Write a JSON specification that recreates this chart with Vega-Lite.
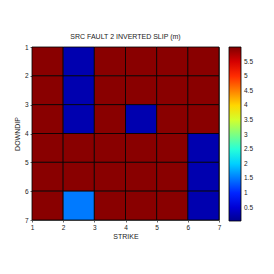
{
  "$schema": "https://vega.github.io/schema/vega-lite/v6.json",
  "width": 187,
  "height": 173,
  "autosize": {"type": "none"},
  "padding": {"left": 32, "top": 47, "right": 55, "bottom": 54},
  "background": "white",
  "title": {"text": "SRC FAULT 2 INVERTED SLIP (m)", "fontSize": 7, "font": "Liberation Sans", "fontWeight": "normal", "color": "#222", "offset": 4, "anchor": "middle"},
  "data": {"values": [
    {"s":1,"s2":2,"d":1,"d2":2,"v":5.95},{"s":2,"s2":3,"d":1,"d2":2,"v":0.25},{"s":3,"s2":4,"d":1,"d2":2,"v":5.95},{"s":4,"s2":5,"d":1,"d2":2,"v":5.95},{"s":5,"s2":6,"d":1,"d2":2,"v":5.95},{"s":6,"s2":7,"d":1,"d2":2,"v":5.95},
    {"s":1,"s2":2,"d":2,"d2":3,"v":5.95},{"s":2,"s2":3,"d":2,"d2":3,"v":0.25},{"s":3,"s2":4,"d":2,"d2":3,"v":5.95},{"s":4,"s2":5,"d":2,"d2":3,"v":5.95},{"s":5,"s2":6,"d":2,"d2":3,"v":5.95},{"s":6,"s2":7,"d":2,"d2":3,"v":5.95},
    {"s":1,"s2":2,"d":3,"d2":4,"v":5.95},{"s":2,"s2":3,"d":3,"d2":4,"v":0.25},{"s":3,"s2":4,"d":3,"d2":4,"v":5.95},{"s":4,"s2":5,"d":3,"d2":4,"v":0.25},{"s":5,"s2":6,"d":3,"d2":4,"v":5.95},{"s":6,"s2":7,"d":3,"d2":4,"v":5.95},
    {"s":1,"s2":2,"d":4,"d2":5,"v":5.95},{"s":2,"s2":3,"d":4,"d2":5,"v":5.95},{"s":3,"s2":4,"d":4,"d2":5,"v":5.95},{"s":4,"s2":5,"d":4,"d2":5,"v":5.95},{"s":5,"s2":6,"d":4,"d2":5,"v":5.95},{"s":6,"s2":7,"d":4,"d2":5,"v":0.25},
    {"s":1,"s2":2,"d":5,"d2":6,"v":5.95},{"s":2,"s2":3,"d":5,"d2":6,"v":5.95},{"s":3,"s2":4,"d":5,"d2":6,"v":5.95},{"s":4,"s2":5,"d":5,"d2":6,"v":5.95},{"s":5,"s2":6,"d":5,"d2":6,"v":5.95},{"s":6,"s2":7,"d":5,"d2":6,"v":0.25},
    {"s":1,"s2":2,"d":6,"d2":7,"v":5.95},{"s":2,"s2":3,"d":6,"d2":7,"v":1.5},{"s":3,"s2":4,"d":6,"d2":7,"v":5.95},{"s":4,"s2":5,"d":6,"d2":7,"v":5.95},{"s":5,"s2":6,"d":6,"d2":7,"v":5.95},{"s":6,"s2":7,"d":6,"d2":7,"v":0.25}
  ]},
  "mark": {"type": "rect", "stroke": "#000", "strokeWidth": 0.8},
  "encoding": {
    "x": {"field": "s", "type": "quantitative", "scale": {"domain": [1, 7], "nice": false, "zero": false},
      "axis": {"values": [1,2,3,4,5,6,7], "title": "STRIKE", "grid": false, "labelFontSize": 6.5, "titleFontSize": 7, "titleFontWeight": "normal", "labelFont": "Liberation Sans", "titleFont": "Liberation Sans", "labelColor": "#222", "titleColor": "#222", "tickSize": 2, "labelPadding": 2, "titlePadding": 2, "domainColor": "#666", "tickColor": "#666", "labelFlush": false}},
    "x2": {"field": "s2"},
    "y": {"field": "d", "type": "quantitative", "scale": {"domain": [1, 7], "nice": false, "zero": false, "reverse": true},
      "axis": {"values": [1,2,3,4,5,6,7], "title": "DOWNDIP", "grid": false, "labelFontSize": 6.5, "titleFontSize": 7, "titleFontWeight": "normal", "labelFont": "Liberation Sans", "titleFont": "Liberation Sans", "labelColor": "#222", "titleColor": "#222", "tickSize": 2, "labelPadding": 2, "titlePadding": 4, "domainColor": "#666", "tickColor": "#666", "labelFlush": false}},
    "y2": {"field": "d2"},
    "color": {"field": "v", "type": "quantitative",
      "scale": {"domain": [0.04, 0.785, 2.275, 3.765, 5.255, 6.0], "range": ["#00008f", "#0000ff", "#00ffff", "#ffff00", "#ff0000", "#800000"], "interpolate": "rgb"},
      "legend": {"title": null, "orient": "right", "offset": 10, "gradientLength": 174, "gradientThickness": 12, "gradientStrokeColor": "#000", "gradientStrokeWidth": 0.8, "values": [0.5,1,1.5,2,2.5,3,3.5,4,4.5,5,5.5], "labelFontSize": 6.5, "labelFont": "Liberation Sans", "labelColor": "#222", "labelOffset": 3, "labelOverlap": false, "labelExpr": "datum.value"}}
  },
  "config": {"view": {"stroke": "#666", "strokeWidth": 1}}
}
